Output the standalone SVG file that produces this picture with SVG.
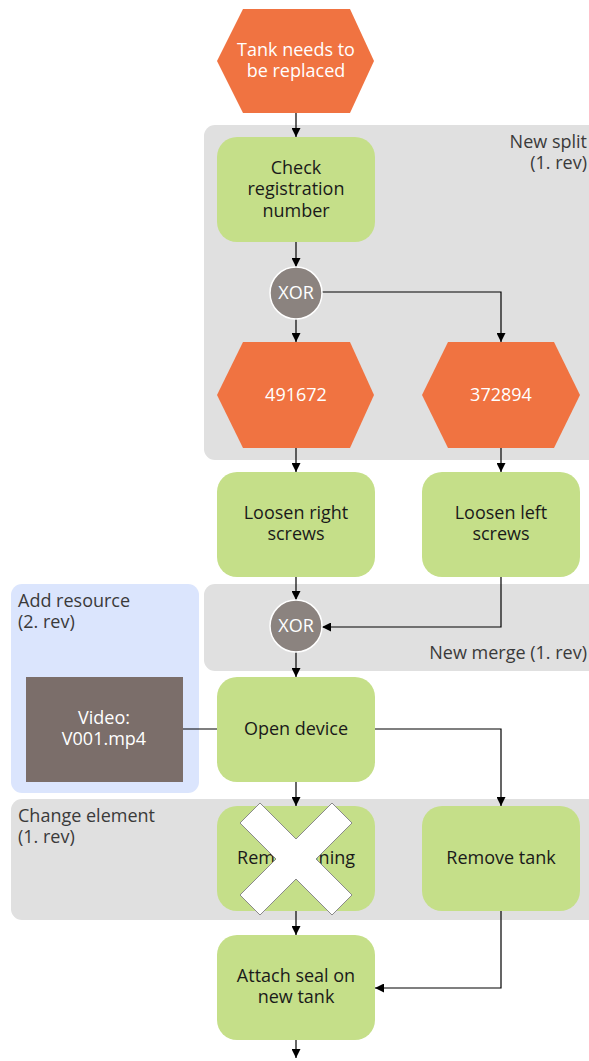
<svg xmlns="http://www.w3.org/2000/svg" width="589" height="1061" viewBox="0 0 589 1061">
  <defs>
    <marker id="arrow" viewBox="0 0 10 10" refX="10" refY="5" markerWidth="9" markerHeight="9" markerUnits="userSpaceOnUse" orient="auto">
      <path d="M0,0 L10,5 L0,10 z" fill="#000"/>
    </marker>
    <style>
      text { font-family: "Open Sans", "Noto Sans", "DejaVu Sans", sans-serif; font-size: 18px; }
      .group-box { fill: #e0e0e0; }
      .res-box { fill: #dbe5fd; }
      .event { fill: #f07341; }
      .func { fill: #c5df89; }
      .xor { fill: #8b837f; stroke: #ffffff; stroke-width: 1.5; }
      .video { fill: #7b6e6a; }
      .lt { fill: #ffffff; text-anchor: middle; }
      .dt { fill: #1a1a1a; text-anchor: middle; }
      .lbl { fill: #3a3a3a; }
      .conn { fill: none; stroke: #000; stroke-width: 1.2; }
    </style>
  </defs>

  <!-- revision areas -->
  <g id="area-new-split">
    <rect class="group-box" x="204" y="125" width="400" height="335" rx="11"/>
    <text class="lbl" x="587" y="148" text-anchor="end">New split</text>
    <text class="lbl" x="587" y="169" text-anchor="end">(1. rev)</text>
  </g>
  <g id="area-new-merge">
    <rect class="group-box" x="204" y="584" width="400" height="87" rx="11"/>
    <text class="lbl" x="587" y="659" text-anchor="end">New merge (1. rev)</text>
  </g>
  <g id="area-add-resource">
    <rect class="res-box" x="11" y="584" width="188" height="209" rx="11"/>
    <text class="lbl" x="18" y="607">Add resource</text>
    <text class="lbl" x="18" y="628">(2. rev)</text>
  </g>
  <g id="area-change-element">
    <rect class="group-box" x="11" y="799" width="593" height="121" rx="11"/>
    <text class="lbl" x="18" y="822">Change element</text>
    <text class="lbl" x="18" y="843">(1. rev)</text>
  </g>

  <!-- connectors -->
  <g id="connectors">
    <path class="conn" d="M296,113 V137" marker-end="url(#arrow)"/>
    <path class="conn" d="M296,242 V267" marker-end="url(#arrow)"/>
    <path class="conn" d="M296,319 V342" marker-end="url(#arrow)"/>
    <path class="conn" d="M322,292 H501 V342" marker-end="url(#arrow)"/>
    <path class="conn" d="M296,448 V472" marker-end="url(#arrow)"/>
    <path class="conn" d="M501,448 V472" marker-end="url(#arrow)"/>
    <path class="conn" d="M296,577 V600" marker-end="url(#arrow)"/>
    <path class="conn" d="M501,577 V627 H322" marker-end="url(#arrow)"/>
    <path class="conn" d="M296,652 V677" marker-end="url(#arrow)"/>
    <path class="conn" d="M183,729 H217"/>
    <path class="conn" d="M375,729 H501 V806" marker-end="url(#arrow)"/>
    <path class="conn" d="M296,782 V806" marker-end="url(#arrow)"/>
    <path class="conn" d="M296,911 V935" marker-end="url(#arrow)"/>
    <path class="conn" d="M501,911 V988 H375" marker-end="url(#arrow)"/>
    <path class="conn" d="M296,1040 V1058" marker-end="url(#arrow)"/>
  </g>

  <!-- events -->
  <g id="ev-tank-needs-replacing">
    <polygon class="event" points="243,9 350,9 374,61 350,113 243,113 217,61"/>
    <text class="lt" x="296" y="56">Tank needs to</text>
    <text class="lt" x="296" y="77">be replaced</text>
  </g>
  <g id="ev-491672">
    <polygon class="event" points="243,342 350,342 374,395 350,448 243,448 217,395"/>
    <text class="lt" x="296" y="401">491672</text>
  </g>
  <g id="ev-372894">
    <polygon class="event" points="448,342 554,342 580,395 554,448 448,448 422,395"/>
    <text class="lt" x="501" y="401">372894</text>
  </g>

  <!-- functions -->
  <g id="fn-check-registration">
    <rect class="func" x="217" y="137" width="158" height="105" rx="20"/>
    <text class="dt" x="296" y="174">Check</text>
    <text class="dt" x="296" y="195">registration</text>
    <text class="dt" x="296" y="217">number</text>
  </g>
  <g id="fn-loosen-right">
    <rect class="func" x="217" y="472" width="158" height="105" rx="20"/>
    <text class="dt" x="296" y="519">Loosen right</text>
    <text class="dt" x="296" y="540">screws</text>
  </g>
  <g id="fn-loosen-left">
    <rect class="func" x="422" y="472" width="158" height="105" rx="20"/>
    <text class="dt" x="501" y="519">Loosen left</text>
    <text class="dt" x="501" y="540">screws</text>
  </g>
  <g id="fn-open-device">
    <rect class="func" x="217" y="677" width="158" height="105" rx="20"/>
    <text class="dt" x="296" y="735">Open device</text>
  </g>
  <g id="fn-remove-lining">
    <rect class="func" x="217" y="806" width="158" height="105" rx="20"/>
    <text class="dt" x="296" y="864">Remove lining</text>
    <!-- deletion cross -->
    <polygon points="296,839 332,803 352,823 316,859 352,895 332,915 296,879 260,915 240,895 276,859 240,823 260,803" fill="#ffffff" stroke="#8a8a8a" stroke-width="1"/>
  </g>
  <g id="fn-remove-tank">
    <rect class="func" x="422" y="806" width="158" height="105" rx="20"/>
    <text class="dt" x="501" y="864">Remove tank</text>
  </g>
  <g id="fn-attach-seal">
    <rect class="func" x="217" y="935" width="158" height="105" rx="20"/>
    <text class="dt" x="296" y="982">Attach seal on</text>
    <text class="dt" x="296" y="1003">new tank</text>
  </g>

  <!-- operators -->
  <g id="xor-split">
    <circle class="xor" cx="296" cy="293" r="26"/>
    <text class="lt" x="296" y="299">XOR</text>
  </g>
  <g id="xor-merge">
    <circle class="xor" cx="296" cy="626" r="26"/>
    <text class="lt" x="296" y="632">XOR</text>
  </g>

  <!-- resource -->
  <g id="res-video">
    <rect class="video" x="26" y="677" width="157" height="105"/>
    <text class="lt" x="104" y="724">Video:</text>
    <text class="lt" x="104" y="745">V001.mp4</text>
  </g>
</svg>
